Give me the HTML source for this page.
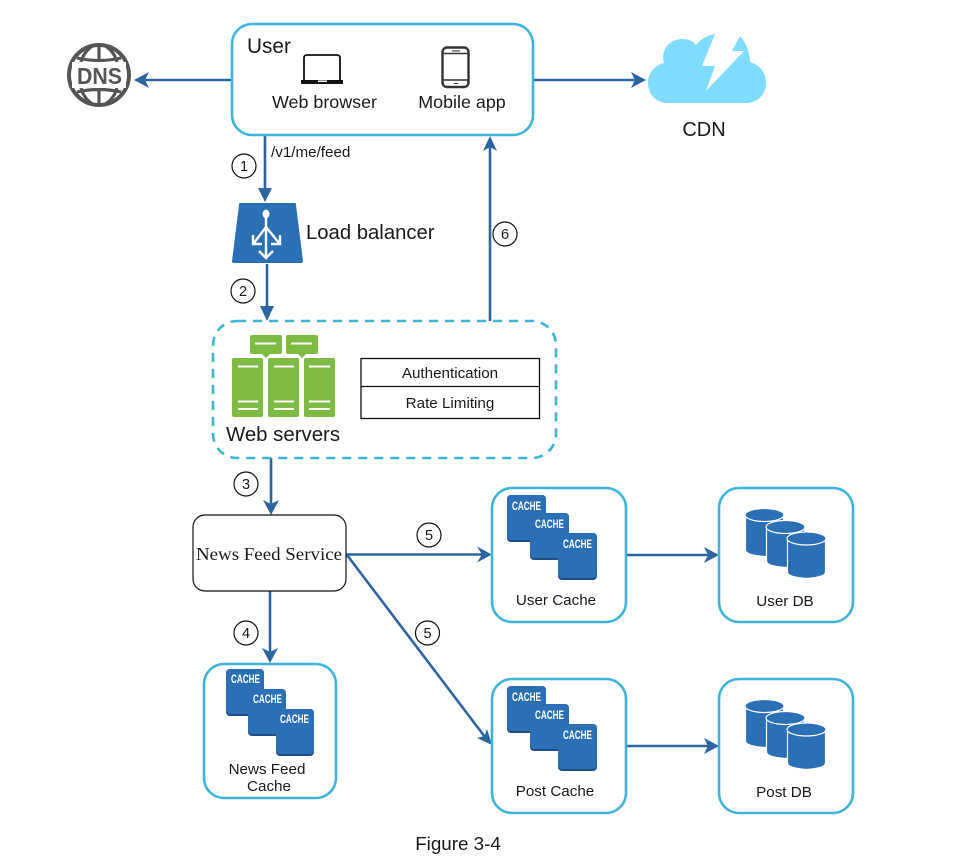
<!DOCTYPE html>
<html><head><meta charset="utf-8"><style>
html,body{margin:0;padding:0;background:#fff}
svg{display:block;filter:blur(.35px)}
text{font-family:"Liberation Sans",sans-serif;fill:#1a1a1a}
.c{font-family:"Liberation Sans",sans-serif;font-size:11.5px;fill:#fff;font-weight:700}
.b{fill:none;stroke:#3fb4d9;stroke-width:2.6}
.a{stroke:#2c659f;stroke-width:2.6;fill:none}
.h{fill:#2c659f;stroke:none}
.n{fill:#fff;stroke:#111;stroke-width:1.2}
.s{fill:#7fba42}
.w{stroke:#fff;stroke-width:2;fill:none}
</style></head><body>
<svg width="958" height="866" viewBox="0 0 958 866" xmlns="http://www.w3.org/2000/svg">
<!-- connectors -->
<path class="a" d="M232 80H140M533 80H635M265 135V192M267 264V310M490 321V146M271 458V505M270 591V652M346 554.500H482M347 555L485 737M626 555H708M626 746H708"/>
<path class="h" d="M134 80L149 72L145 80L149 88Z"/>
<path class="h" d="M646 80L631 72L635 80L631 88Z"/>
<path class="h" d="M265 202L258 188H272Z"/>
<path class="h" d="M267 321L260 306H274Z"/>
<path class="h" d="M490 136L483 151L490 147L497 151Z"/>
<path class="h" d="M271 515L263 500L271 504L279 500Z"/>
<path class="h" d="M270 663L262 648L270 652L278 648Z"/>
<path class="h" d="M492 554.500L477 546.500L482 554.500L477 562.500Z"/>
<path class="h" d="M492 745L477 738L484.500 736L487 729Z"/>
<path class="h" d="M719 555L704 547L708 555L704 563Z"/>
<path class="h" d="M719 746L704 738L708 746L704 754Z"/>

<!-- DNS -->
<g fill="none" stroke="#555" stroke-width="4">
<circle cx="99" cy="75" r="30"/>
<path stroke-width="3.200" d="M77 58Q99 63 121 58M77 92Q99 87 121 92M99 45V61M99 89V105M94 45Q84 51 81 62M104 45Q114 51 117 62M94 105Q84 99 81 88M104 105Q114 99 117 88"/>
</g>
<rect x="72" y="62" width="54" height="26" fill="#fff"/>
<text x="99.500" y="84" text-anchor="middle" font-size="23" font-weight="700" style="fill:#555" textLength="45" lengthAdjust="spacingAndGlyphs">DNS</text>

<!-- User -->
<rect class="b" x="232" y="24" width="301" height="111" rx="20" style="fill:#fff"/>
<text x="247" y="53" font-size="20.800">User</text>
<path d="M304 81V58Q304 55 307 55H337Q340 55 340 58V81" fill="none" stroke="#111" stroke-width="1.800"/>
<path d="M301 80H343V83Q343 84 342 84H302Q301 84 301 83Z" fill="#111"/>
<rect x="318" y="80.500" width="9" height="1.500" fill="#fff"/>
<text x="324.500" y="108" text-anchor="middle" font-size="17.900">Web browser</text>
<rect x="442.500" y="47.500" width="26" height="39.500" rx="4.500" fill="none" stroke="#333" stroke-width="2.400"/>
<path d="M442 53.500H469M442 80H469" stroke="#333" stroke-width="1.600"/>
<path d="M452 51H460M454 83.500H458" stroke="#333" stroke-width="1"/>
<text x="462" y="108" text-anchor="middle" font-size="17.900">Mobile app</text>

<!-- CDN -->
<path d="M668 103C655 103 648 93 648 83C648 73 655 65 664 63C660 50 670 39 682 39C688 39 693 41 696 45Q703 36 715 34L702 66H715L706 91L744 51H731.700L740 36Q749 46 750 62C760 65 766 73 766 83C766 95 757 103 746 103Z" fill="#80dcfe"/>
<text x="704" y="136" text-anchor="middle" font-size="20">CDN</text>

<!-- request label -->
<text x="271" y="157" font-size="15.200">/v1/me/feed</text>

<!-- numbered -->
<g fill="#fff" stroke="#111" stroke-width="1.200">
<circle cx="244" cy="166" r="12"/><circle cx="243" cy="291" r="12"/><circle cx="505" cy="234" r="12"/>
<circle cx="246" cy="484" r="12"/><circle cx="246" cy="633" r="12"/><circle cx="429" cy="535" r="12"/><circle cx="427.500" cy="633" r="12"/>
</g>
<g font-size="14.500" text-anchor="middle">
<text x="244" y="171">1</text><text x="243" y="296">2</text><text x="505" y="239">6</text>
<text x="246" y="489">3</text><text x="246" y="638">4</text><text x="429" y="540">5</text><text x="427.500" y="638">5</text>
</g>

<!-- Load balancer -->
<path d="M240 203H295Q296 203 296 205L303 261Q303 263 301 263H234Q232 263 232 261L239 205Q239 203 240 203Z" fill="#2b6fb5"/>
<g stroke="#fff" stroke-width="2.400" fill="none">
<path d="M266 214V258M266 227L254 243M266 227L279 243M259 251L266 258L273 251M253 235V244H262M280 235V244H271"/>
</g>
<ellipse cx="266" cy="214" rx="3.500" ry="4.500" fill="#fff"/>
<text x="306" y="239" font-size="20.300">Load balancer</text>

<!-- Web servers -->
<rect class="b" x="213" y="321" width="343" height="137" rx="24" stroke-dasharray="9 7"/>
<g class="s">
<rect x="250" y="335" width="32" height="19" rx="2"/><rect x="286" y="335" width="32" height="19" rx="2"/>
<path d="M262 354L266 358L270 354ZM298 354L302 358L306 354Z"/>
<rect x="232" y="358" width="31" height="59" rx="2"/><rect x="268" y="358" width="31" height="59" rx="2"/><rect x="304" y="358" width="31" height="59" rx="2"/>
</g>
<path class="w" d="M255 343.500H276M291 343.500H312M238 366.500H258M238 401.500H258M238 409H258M274 366.500H294M274 401.500H294M274 409H294M309 366.500H330M309 401.500H330M309 409H330"/>
<text x="283" y="441" text-anchor="middle" font-size="20.400">Web servers</text>
<rect x="361" y="358.500" width="178.500" height="60" fill="#fff" stroke="#111" stroke-width="1.300"/>
<path d="M361 386.500H539.500" stroke="#111" stroke-width="1.300"/>
<text x="450" y="378" text-anchor="middle" font-size="15.200">Authentication</text>
<text x="450" y="408" text-anchor="middle" font-size="15.200">Rate Limiting</text>

<!-- NFS -->
<rect class="n" x="193" y="515" width="153" height="76" rx="12"/>
<text x="269" y="560" text-anchor="middle" font-size="17.500" textLength="146" lengthAdjust="spacingAndGlyphs" style="font-family:'Liberation Serif',serif">News Feed Service</text>

<!-- boxes -->
<rect class="b" x="492" y="488" width="134" height="134" rx="20"/>
<rect class="b" x="719" y="488" width="134" height="134" rx="20"/>
<rect class="b" x="492" y="679" width="134" height="134" rx="20"/>
<rect class="b" x="719" y="679" width="134" height="134" rx="20"/>
<rect class="b" x="204" y="664" width="132" height="134" rx="20"/>

<!-- caches -->
<g transform="translate(226 669)">
<rect x="0" y="0" width="38" height="47" rx="4" fill="#1d4f86"/><rect x="0" y="0" width="38" height="45" rx="4" fill="#2b6fb5"/>
<rect x="22" y="20" width="38" height="47" rx="4" fill="#1d4f86"/><rect x="22" y="20" width="38" height="45" rx="4" fill="#2b6fb5"/>
<rect x="50" y="40" width="38" height="47" rx="4" fill="#1d4f86"/><rect x="50" y="40" width="38" height="45" rx="4" fill="#2b6fb5"/>
<text class="c" x="5" y="14" textLength="29" lengthAdjust="spacingAndGlyphs">CACHE</text><text class="c" x="27" y="34" textLength="29" lengthAdjust="spacingAndGlyphs">CACHE</text><text class="c" x="54" y="54" textLength="29" lengthAdjust="spacingAndGlyphs">CACHE</text>
</g>
<g transform="translate(507 495)">
<rect x="0" y="0" width="39" height="47" rx="4" fill="#1d4f86"/><rect x="0" y="0" width="39" height="45" rx="4" fill="#2b6fb5"/>
<rect x="23" y="18" width="39" height="47" rx="4" fill="#1d4f86"/><rect x="23" y="18" width="39" height="45" rx="4" fill="#2b6fb5"/>
<rect x="51" y="38" width="39" height="47" rx="4" fill="#1d4f86"/><rect x="51" y="38" width="39" height="45" rx="4" fill="#2b6fb5"/>
<text class="c" x="5" y="15" textLength="29" lengthAdjust="spacingAndGlyphs">CACHE</text><text class="c" x="28" y="33" textLength="29" lengthAdjust="spacingAndGlyphs">CACHE</text><text class="c" x="56" y="53" textLength="29" lengthAdjust="spacingAndGlyphs">CACHE</text>
</g>
<g transform="translate(507 686)">
<rect x="0" y="0" width="39" height="47" rx="4" fill="#1d4f86"/><rect x="0" y="0" width="39" height="45" rx="4" fill="#2b6fb5"/>
<rect x="23" y="18" width="39" height="47" rx="4" fill="#1d4f86"/><rect x="23" y="18" width="39" height="45" rx="4" fill="#2b6fb5"/>
<rect x="51" y="38" width="39" height="47" rx="4" fill="#1d4f86"/><rect x="51" y="38" width="39" height="45" rx="4" fill="#2b6fb5"/>
<text class="c" x="5" y="15" textLength="29" lengthAdjust="spacingAndGlyphs">CACHE</text><text class="c" x="28" y="33" textLength="29" lengthAdjust="spacingAndGlyphs">CACHE</text><text class="c" x="56" y="53" textLength="29" lengthAdjust="spacingAndGlyphs">CACHE</text>
</g>

<!-- DBs -->
<g fill="#2b6fb5" stroke="#fff" stroke-width="1.200">
<path d="M745.500 515V550Q745.500 555 764.500 556.500Q783.500 555 783.500 550V515Z"/><ellipse cx="764.500" cy="515" rx="19.500" ry="6.500"/>
<path d="M766.500 526V561Q766.500 566 785.500 567.500Q804.500 566 804.500 561V526Z"/><ellipse cx="785.500" cy="527" rx="19.500" ry="6.500"/>
<path d="M787.500 538V572Q787.500 577 806.500 578.500Q825.500 577 825.500 572V538Z"/><ellipse cx="806.500" cy="538.500" rx="19.500" ry="6.500"/>
<path d="M745.500 706V741Q745.500 746 764.500 747.500Q783.500 746 783.500 741V706Z"/><ellipse cx="764.500" cy="706" rx="19.500" ry="6.500"/>
<path d="M766.500 717V752Q766.500 757 785.500 758.500Q804.500 757 804.500 752V717Z"/><ellipse cx="785.500" cy="718" rx="19.500" ry="6.500"/>
<path d="M787.500 729V763Q787.500 768 806.500 769.500Q825.500 768 825.500 763V729Z"/><ellipse cx="806.500" cy="729.500" rx="19.500" ry="6.500"/>
</g>

<!-- labels -->
<g font-size="15.200" text-anchor="middle">
<text x="556" y="605">User Cache</text>
<text x="785" y="606">User DB</text>
<text x="555" y="796">Post Cache</text>
<text x="784" y="797">Post DB</text>
<text x="267" y="774">News Feed</text>
<text x="269" y="791">Cache</text>
</g>
<text x="458" y="850" text-anchor="middle" font-size="18.800">Figure 3-4</text>
</svg>
</body></html>
